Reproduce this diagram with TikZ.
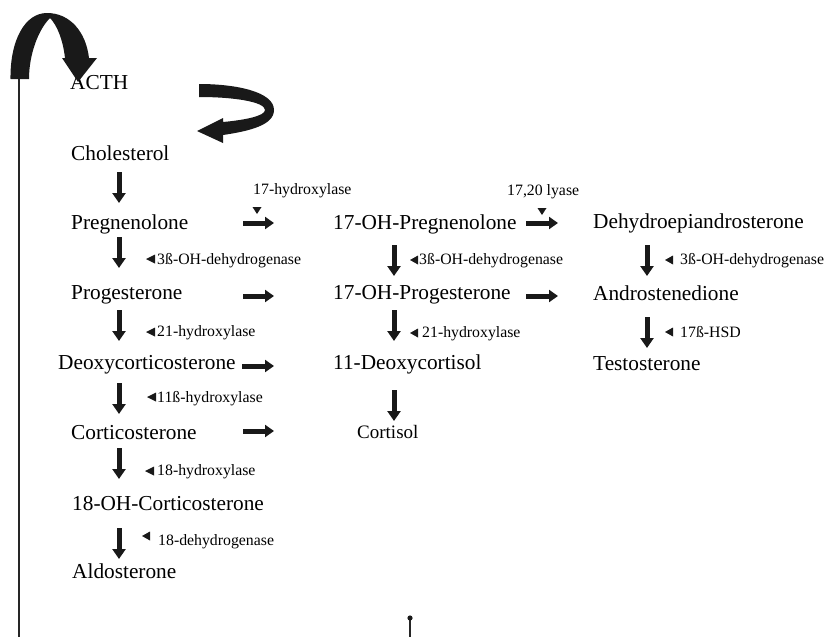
\documentclass[tikz,border=0pt]{standalone}
\usepackage{fontspec}
\setmainfont{Liberation Serif}
\usetikzlibrary{arrows.meta}
\begin{document}
\begin{tikzpicture}[x=1pt,y=-1pt,
  compound/.style={anchor=base west,inner sep=0pt,font=\fontsize{21.3}{24}\selectfont},
  smallcompound/.style={anchor=base west,inner sep=0pt,font=\fontsize{19}{22}\selectfont},
  enzyme/.style={anchor=base west,inner sep=0pt,font=\fontsize{15.8}{18}\selectfont},
  downarr/.style={line width=5pt,-{Triangle[length=10pt,width=13pt]}},
  rightarr/.style={line width=5pt,-{Triangle[length=9pt,width=12pt]}},
  ink/.style={fill=black!90}]
\useasboundingbox (0,0) rectangle (827,637);
% compounds
\node[compound] (acth) at (70,89) {ACTH};
\node[compound] (chol) at (71,160) {Cholesterol};
\node[compound] (preg) at (71,229) {Pregnenolone};
\node[compound] (prog) at (71,299) {Progesterone};
\node[compound] (doc) at (58,369) {Deoxycorticosterone};
\node[compound] (cort) at (71,439) {Corticosterone};
\node[compound] (ohc) at (72,510) {18-OH-Corticosterone};
\node[compound] (aldo) at (72,578) {Aldosterone};
\node[compound] (ohpreg) at (333,229) {17-OH-Pregnenolone};
\node[compound] (ohprog) at (333,299) {17-OH-Progesterone};
\node[compound] (dcort) at (333,369) {11-Deoxycortisol};
\node[smallcompound] (cortisol) at (357,438) {Cortisol};
\node[compound] (dhea) at (593,228) {Dehydroepiandrosterone};
\node[compound] (andro) at (593,300) {Androstenedione};
\node[compound] (testo) at (593,370) {Testosterone};
% enzymes
\node[enzyme] (e17h) at (253,194) {17-hydroxylase};
\node[enzyme] (e1720) at (507,195) {17,20 lyase};
\node[enzyme] (e3b1) at (157,264) {3ß-OH-dehydrogenase};
\node[enzyme] (e21a) at (157,336) {21-hydroxylase};
\node[enzyme] (e11b) at (157,402) {11ß-hydroxylase};
\node[enzyme] (e18h) at (157,475) {18-hydroxylase};
\node[enzyme] (e18d) at (158,545) {18-dehydrogenase};
\node[enzyme] (e3b2) at (419,264) {3ß-OH-dehydrogenase};
\node[enzyme] (e21b) at (422,337) {21-hydroxylase};
\node[enzyme] (e3b3) at (680,264) {3ß-OH-dehydrogenase};
\node[enzyme] (e17b) at (680,337) {17ß-HSD};
% left-pointing small triangles
\foreach \n/\xa/\xb/\yc in {t1/146/155/259, t2/146/155/332, t3/147/156/397, t4/145/154/471, t5/142/150/536,
                          t6/410/418/260, t7/410/418/333, t8/665/673/260, t9/665/673/332}
  \fill[ink] (\xb,\yc-4.5) -- (\xa,\yc) -- (\xb,\yc+4.5) -- cycle;
% down-pointing small triangles
\foreach \xc/\ya in {257/207, 542/208}
  \fill[ink] (\xc-4.5,\ya) -- (\xc+4.5,\ya) -- (\xc,\ya+7) -- cycle;
% down arrows
\foreach \n/\x/\a/\b in {d1/119/172/203, d2/119/237/268, d3/119/310/341, d4/119/383/414, d5/119/448/479, d6/119/528/559,
                        d7/394/245/276, d8/394/310/341, d9/394/390/421, d10/647/245/276, d11/647/317/348}
{ \coordinate (\n s) at (\x,\a); \coordinate (\n e) at (\x,\b);
  \draw[downarr,black!90] (\n s) -- (\n e); }
% right arrows
\foreach \n/\a/\b/\y in {r1/243/274/223, r2/243/274/296, r3/242/274/366, r4/243/274/431, r5/526/558/223, r6/526/558/296}
{ \coordinate (\n s) at (\a,\y); \coordinate (\n e) at (\b,\y);
  \draw[rightarr,black!90] (\n s) -- (\n e); }
% big curved arrow (top left)
\fill[ink] (10.5,79) .. controls (10,40) and (25,13) .. (47,13)
  .. controls (70,13) and (86,32) .. (89,58) -- (97,58) -- (78,82) -- (62,58) -- (65,58)
  .. controls (63,40) and (57,25) .. (50,18)
  .. controls (38,30) and (29,55) .. (29,79) -- cycle;
% feedback line
\coordinate (fbtop) at (19,79);
\coordinate (fbbot) at (19,637);
\draw[line width=2pt,black!85] (fbtop) -- (fbbot);
% curved arrow (right of ACTH)
\fill[ink] (199,84) .. controls (237,84) and (274,92) .. (274,110)
  .. controls (274,125) and (250,131) .. (223,135) -- (223,143) -- (197,131) -- (223,118) -- (223,122)
  .. controls (245,120) and (265,116) .. (265,110)
  .. controls (265,102) and (235,97) .. (199,97) -- cycle;
% small stub with dot
\coordinate (stubtop) at (410,618);
\coordinate (stubbot) at (410,637);
\draw[line width=1.7pt,black!85] (stubtop) -- (stubbot);
\fill[ink] (stubtop) circle (2.6);
\end{tikzpicture}
\end{document}
